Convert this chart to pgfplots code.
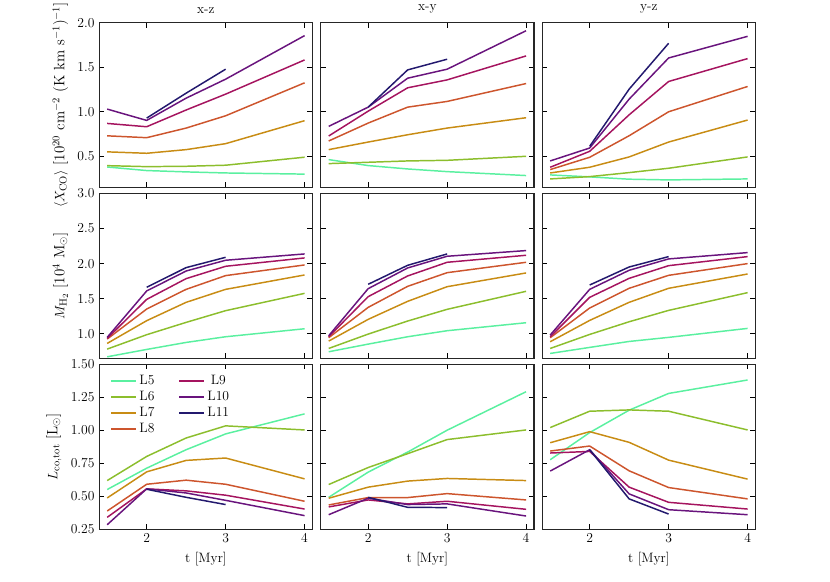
\documentclass[12pt,border=0pt]{standalone}
\usepackage{pgfplots}
\pgfplotsset{compat=1.18}
\definecolor{cL5}{RGB}{90,240,160}
\definecolor{cL6}{RGB}{140,190,45}
\definecolor{cL7}{RGB}{200,140,20}
\definecolor{cL8}{RGB}{205,85,45}
\definecolor{cL9}{RGB}{165,20,95}
\definecolor{cL10}{RGB}{105,20,125}
\definecolor{cL11}{RGB}{35,25,110}
\pgfplotsset{
  panel/.style={
    scale only axis, width=187.6pt, height=145pt,
    anchor=north west,
    xmin=1.4, xmax=4.1, xtick={2,3,4},
    tick align=inside, xtick pos=both, ytick pos=both,
    major tick length=4.5pt,
    every tick/.style={line width=0.8pt, black},
    axis line style={line width=1pt, black!85},
    every axis plot/.append style={line width=1.3pt, no marks},
    title style={yshift=-2pt},
    ylabel style={font=\fontsize{13.2}{15.5}\selectfont},
  },
  r1/.style={ymin=0.15, ymax=2.0, ytick={0.5,1.0,1.5,2.0},
    yticklabel style={/pgf/number format/.cd, fixed, fixed zerofill, precision=1}},
  r2/.style={ymin=0.65, ymax=3.0, ytick={1.0,1.5,2.0,2.5,3.0},
    yticklabel style={/pgf/number format/.cd, fixed, fixed zerofill, precision=1}},
  r3/.style={ymin=0.25, ymax=1.5, ytick={0.25,0.5,0.75,1.0,1.25,1.5},
    yticklabel style={/pgf/number format/.cd, fixed, fixed zerofill, precision=2}},
}
\begin{document}
\begin{tikzpicture}
% ---------- Row 1 : X_CO ----------
\begin{axis}[panel, r1, at={(87.38pt,-19.98pt)}, title={x-z}, xticklabels={},
  ylabel={$\langle X_{\rm CO}\rangle$ [10$^{20}$ cm$^{-2}$ (K km s$^{-1}$)$^{-1}$]}]
\addplot[cL5] coordinates {(1.5,0.38)(2,0.34)(2.5,0.325)(3,0.313)(4,0.30)};
\addplot[cL6] coordinates {(1.5,0.395)(2,0.384)(2.5,0.388)(3,0.40)(4,0.49)};
\addplot[cL7] coordinates {(1.5,0.55)(2,0.534)(2.5,0.575)(3,0.642)(4,0.90)};
\addplot[cL8] coordinates {(1.5,0.73)(2,0.709)(2.5,0.817)(3,0.955)(4,1.325)};
\addplot[cL9] coordinates {(1.5,0.869)(2,0.832)(2.5,1.02)(3,1.198)(4,1.582)};
\addplot[cL10] coordinates {(1.5,1.03)(2,0.903)(2.5,1.153)(3,1.366)(4,1.855)};
\addplot[cL11] coordinates {(2,0.929)(2.5,1.209)(3,1.478)};
\end{axis}
\begin{axis}[panel, r1, at={(282.30pt,-19.98pt)}, title={x-y}, xticklabels={}, yticklabels={}]
\addplot[cL5] coordinates {(1.5,0.463)(2,0.396)(2.5,0.358)(3,0.328)(4,0.284)};
\addplot[cL6] coordinates {(1.5,0.418)(2,0.433)(2.5,0.448)(3,0.455)(4,0.50)};
\addplot[cL7] coordinates {(1.5,0.575)(2,0.66)(2.5,0.742)(3,0.817)(4,0.933)};
\addplot[cL8] coordinates {(1.5,0.672)(2,0.873)(2.5,1.052)(3,1.116)(4,1.317)};
\addplot[cL9] coordinates {(1.5,0.728)(2,1.007)(2.5,1.269)(3,1.358)(4,1.627)};
\addplot[cL10] coordinates {(1.5,0.836)(2,1.052)(2.5,1.377)(3,1.478)(4,1.91)};
\addplot[cL11] coordinates {(2,1.052)(2.5,1.47)(3,1.59)};
\end{axis}
\begin{axis}[panel, r1, at={(477.22pt,-19.98pt)}, title={y-z}, xticklabels={}, yticklabels={}]
\addplot[cL5] coordinates {(1.5,0.291)(2,0.269)(2.5,0.243)(3,0.235)(4,0.246)};
\addplot[cL6] coordinates {(1.5,0.246)(2,0.272)(2.5,0.317)(3,0.366)(4,0.493)};
\addplot[cL7] coordinates {(1.5,0.313)(2,0.377)(2.5,0.493)(3,0.66)(4,0.907)};
\addplot[cL8] coordinates {(1.5,0.351)(2,0.489)(2.5,0.731)(3,1.0)(4,1.284)};
\addplot[cL9] coordinates {(1.5,0.377)(2,0.556)(2.5,0.966)(3,1.34)(4,1.597)};
\addplot[cL10] coordinates {(1.5,0.448)(2,0.593)(2.5,1.142)(3,1.604)(4,1.847)};
\addplot[cL11] coordinates {(2,0.612)(2.5,1.254)(3,1.769)};
\end{axis}
% ---------- Row 2 : M_H2 ----------
\begin{axis}[panel, r2, at={(87.38pt,-170.28pt)}, xticklabels={},
  ylabel={$M_{\rm H_2}$ [10$^{4}$ M$_{\odot}$]}]
\addplot[cL5] coordinates {(1.5,0.671)(2,0.776)(2.5,0.876)(3,0.957)(4,1.071)};
\addplot[cL6] coordinates {(1.5,0.781)(2,0.986)(2.5,1.162)(3,1.329)(4,1.576)};
\addplot[cL7] coordinates {(1.5,0.862)(2,1.186)(2.5,1.448)(3,1.633)(4,1.838)};
\addplot[cL8] coordinates {(1.5,0.924)(2,1.352)(2.5,1.633)(3,1.829)(4,1.981)};
\addplot[cL9] coordinates {(1.5,0.933)(2,1.49)(2.5,1.786)(3,1.962)(4,2.081)};
\addplot[cL10] coordinates {(1.5,0.948)(2,1.61)(2.5,1.895)(3,2.048)(4,2.138)};
\addplot[cL11] coordinates {(2,1.662)(2.5,1.943)(3,2.09)};
\end{axis}
\begin{axis}[panel, r2, at={(282.30pt,-170.28pt)}, xticklabels={}, yticklabels={}]
\addplot[cL5] coordinates {(1.5,0.743)(2,0.852)(2.5,0.957)(3,1.043)(4,1.157)};
\addplot[cL6] coordinates {(1.5,0.79)(2,0.995)(2.5,1.181)(3,1.348)(4,1.605)};
\addplot[cL7] coordinates {(1.5,0.895)(2,1.205)(2.5,1.462)(3,1.671)(4,1.867)};
\addplot[cL8] coordinates {(1.5,0.943)(2,1.376)(2.5,1.676)(3,1.871)(4,2.019)};
\addplot[cL9] coordinates {(1.5,0.957)(2,1.529)(2.5,1.824)(3,2.019)(4,2.119)};
\addplot[cL10] coordinates {(1.5,0.971)(2,1.643)(2.5,1.938)(3,2.105)(4,2.186)};
\addplot[cL11] coordinates {(2,1.705)(2.5,1.976)(3,2.138)};
\end{axis}
\begin{axis}[panel, r2, at={(477.22pt,-170.28pt)}, xticklabels={}, yticklabels={}]
\addplot[cL5] coordinates {(1.5,0.719)(2,0.805)(2.5,0.89)(3,0.948)(4,1.076)};
\addplot[cL6] coordinates {(1.5,0.79)(2,0.99)(2.5,1.171)(3,1.333)(4,1.586)};
\addplot[cL7] coordinates {(1.5,0.886)(2,1.19)(2.5,1.448)(3,1.648)(4,1.852)};
\addplot[cL8] coordinates {(1.5,0.943)(2,1.367)(2.5,1.648)(3,1.833)(4,2.0)};
\addplot[cL9] coordinates {(1.5,0.957)(2,1.519)(2.5,1.79)(3,1.971)(4,2.1)};
\addplot[cL10] coordinates {(1.5,0.981)(2,1.633)(2.5,1.905)(3,2.067)(4,2.157)};
\addplot[cL11] coordinates {(2,1.695)(2.5,1.952)(3,2.1)};
\end{axis}
% ---------- Row 3 : L_co ----------
\begin{axis}[panel, r3, at={(87.38pt,-320.58pt)}, xlabel={t [Myr]},
  ylabel={$L_{\rm co,tot}$ [L$_{\odot}$]},
  legend style={draw=none, fill=none, at={(0.035,0.96)}, anchor=north west,
    row sep=0pt,
    /tikz/every even column/.append style={column sep=19pt}},
  legend columns=2,
  legend image code/.code={\draw[#1, line width=1.6pt] (0pt,0pt) -- (22pt,0pt);}]
\addplot[cL5, forget plot] coordinates {(1.5,0.55)(2,0.712)(2.5,0.852)(3,0.972)(4,1.124)};
\addplot[cL6, forget plot] coordinates {(1.5,0.618)(2,0.801)(2.5,0.941)(3,1.033)(4,1.002)};
\addplot[cL7, forget plot] coordinates {(1.5,0.486)(2,0.684)(2.5,0.771)(3,0.789)(4,0.631)};
\addplot[cL8, forget plot] coordinates {(1.5,0.387)(2,0.59)(2.5,0.621)(3,0.59)(4,0.461)};
\addplot[cL9, forget plot] coordinates {(1.5,0.339)(2,0.555)(2.5,0.54)(3,0.507)(4,0.402)};
\addplot[cL10, forget plot] coordinates {(1.5,0.283)(2,0.555)(2.5,0.524)(3,0.468)(4,0.352)};
\addplot[cL11, forget plot] coordinates {(2,0.552)(2.5,0.491)(3,0.436)};
\addlegendimage{cL5, line width=1.6pt}\addlegendentry{L5}
\addlegendimage{cL9, line width=1.6pt}\addlegendentry{L9}
\addlegendimage{cL6, line width=1.6pt}\addlegendentry{L6}
\addlegendimage{cL10, line width=1.6pt}\addlegendentry{L10}
\addlegendimage{cL7, line width=1.6pt}\addlegendentry{L7}
\addlegendimage{cL11, line width=1.6pt}\addlegendentry{L11}
\addlegendimage{cL8, line width=1.6pt}\addlegendentry{L8}
\end{axis}
\begin{axis}[panel, r3, at={(282.30pt,-320.58pt)}, xlabel={t [Myr]}, yticklabels={}]
\addplot[cL5] coordinates {(1.5,0.491)(2,0.682)(2.5,0.834)(3,1.0)(4,1.292)};
\addplot[cL6] coordinates {(1.5,0.588)(2,0.717)(2.5,0.822)(3,0.929)(4,1.002)};
\addplot[cL7] coordinates {(1.5,0.484)(2,0.568)(2.5,0.614)(3,0.634)(4,0.618)};
\addplot[cL8] coordinates {(1.5,0.433)(2,0.489)(2.5,0.489)(3,0.519)(4,0.471)};
\addplot[cL9] coordinates {(1.5,0.418)(2,0.471)(2.5,0.441)(3,0.461)(4,0.40)};
\addplot[cL10] coordinates {(1.5,0.359)(2,0.484)(2.5,0.436)(3,0.441)(4,0.349)};
\addplot[cL11] coordinates {(2,0.491)(2.5,0.415)(3,0.413)};
\end{axis}
\begin{axis}[panel, r3, at={(477.22pt,-320.58pt)}, xlabel={t [Myr]}, yticklabels={}]
\addplot[cL5] coordinates {(1.5,0.776)(2,0.982)(2.5,1.152)(3,1.279)(4,1.381)};
\addplot[cL6] coordinates {(1.5,1.02)(2,1.144)(2.5,1.154)(3,1.144)(4,1.002)};
\addplot[cL7] coordinates {(1.5,0.905)(2,0.989)(2.5,0.908)(3,0.773)(4,0.629)};
\addplot[cL8] coordinates {(1.5,0.842)(2,0.88)(2.5,0.692)(3,0.565)(4,0.479)};
\addplot[cL9] coordinates {(1.5,0.827)(2,0.839)(2.5,0.568)(3,0.453)(4,0.402)};
\addplot[cL10] coordinates {(1.5,0.69)(2,0.852)(2.5,0.517)(3,0.397)(4,0.359)};
\addplot[cL11] coordinates {(2,0.852)(2.5,0.479)(3,0.364)};
\end{axis}
\pgfresetboundingbox
\path[use as bounding box] (0pt,0pt) rectangle (730.4pt,-511.28pt);
\end{tikzpicture}
\end{document}
